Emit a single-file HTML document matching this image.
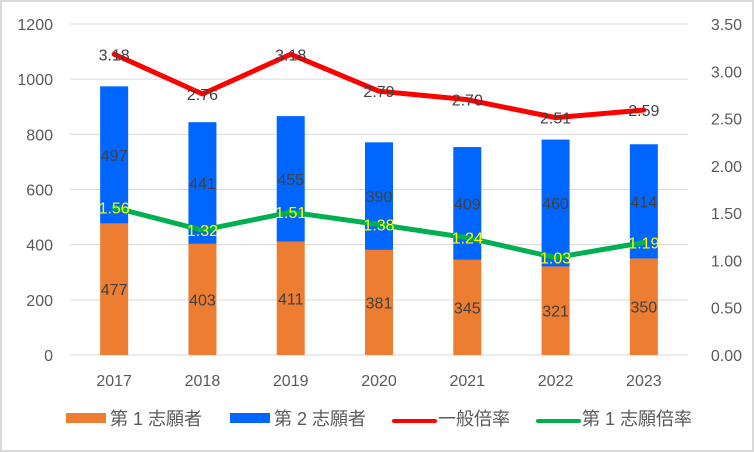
<!DOCTYPE html>
<html><head><meta charset="utf-8">
<style>
html,body{margin:0;padding:0;background:#fff;}
svg{display:block;font-family:"Liberation Sans","Noto Sans CJK JP",sans-serif;}
</style></head>
<body>
<svg id="chart" width="754" height="452">
<rect x="1" y="1" width="752" height="450" fill="#fff" stroke="#d9d9d9" stroke-width="2"/>
<g id="grid"></g><g id="bars"></g><g id="lines"></g><g id="labels"></g><g id="axes"></g>
<g id="legend">
<rect x="66" y="413" width="40" height="10" fill="#ED7D31"/>
<text x="110" y="425" font-size="18" fill="#595959">第 1 志願者</text>
<rect x="230" y="413" width="40" height="10" fill="#0066FF"/>
<text x="274" y="425" font-size="18" fill="#595959">第 2 志願者</text>
<line x1="394" y1="421" x2="435" y2="421" stroke="#FF0000" stroke-width="4" stroke-linecap="round"/>
<text x="438" y="425" font-size="18" fill="#595959">一般倍率</text>
<line x1="538" y1="421" x2="579" y2="421" stroke="#00B050" stroke-width="4" stroke-linecap="round"/>
<text x="582" y="425" font-size="18" fill="#595959">第 1 志願倍率</text>
</g>
</svg>
<script>
const categories=["2017","2018","2019","2020","2021","2022","2023"];
const firstChoice=[477,403,411,381,345,321,350];
const secondChoice=[497,441,455,390,409,460,414];
const generalRatio=[3.18,2.76,3.18,2.79,2.70,2.51,2.59];
const firstRatio=[1.56,1.32,1.51,1.38,1.24,1.03,1.19];
const leftTicks=[0,200,400,600,800,1000,1200];
const rightTicks=["0.00","0.50","1.00","1.50","2.00","2.50","3.00","3.50"];

const NS="http://www.w3.org/2000/svg";
const X0=70,X1=688,Y0=355,Y1=24;
const step=(X1-X0)/categories.length;
const xC=i=>X0+step*(i+0.5);
const yL=v=>Y0-(v/1200)*(Y0-Y1);
const yR=v=>Y0-(v/3.5)*(Y0-Y1);
function mk(tag,attrs,parent,txt){const e=document.createElementNS(NS,tag);for(const k in attrs)e.setAttribute(k,attrs[k]);if(txt!==undefined)e.textContent=txt;document.getElementById(parent).appendChild(e);return e;}

leftTicks.forEach(t=>{
  const g=mk('line',{x1:X0,x2:X1,y1:yL(t),y2:yL(t),stroke:'#d9d9d9','stroke-width':1},'grid');
  
  
  const l=mk('text',{x:53,y:yL(t)+6,'text-anchor':'end','font-size':16,fill:'#595959'},'axes',String(t));
  
  
});
rightTicks.forEach(t=>{
  const l=mk('text',{x:742,y:yR(parseFloat(t))+6,'text-anchor':'end','font-size':16,fill:'#595959'},'axes',t);
  
  
});
const BW=28;
categories.forEach((c,i)=>{
  const x=xC(i);
  const l=mk('text',{x:x,y:386,'text-anchor':'middle','font-size':16,fill:'#595959'},'axes',c);
  
  
  const a=mk('rect',{x:x-BW/2,y:yL(firstChoice[i]),width:BW,height:Y0-yL(firstChoice[i]),fill:'#ED7D31'},'bars');
  
  
  const top=firstChoice[i]+secondChoice[i];
  const b=mk('rect',{x:x-BW/2,y:yL(top),width:BW,height:yL(firstChoice[i])-yL(top),fill:'#0066FF'},'bars');
  
  
  const t1=mk('text',{x:x,y:(yL(firstChoice[i])+Y0)/2+6,'text-anchor':'middle','font-size':16,fill:'#404040'},'labels',String(firstChoice[i]));
  
  
  const t2=mk('text',{x:x,y:(yL(firstChoice[i])+yL(top))/2+6,'text-anchor':'middle','font-size':16,fill:'#404040'},'labels',String(secondChoice[i]));
  
  
});
function series(vals,color,name,lblColor){
  const pts=vals.map((v,i)=>xC(i)+','+yR(v)).join(' ');
  const p=mk('polyline',{points:pts,fill:'none',stroke:color,'stroke-width':5,'stroke-linejoin':'round','stroke-linecap':'round'},'lines');
  
  
  vals.forEach((v,i)=>{
    const t=mk('text',{x:xC(i),y:yR(v)+6,'text-anchor':'middle','font-size':16,fill:lblColor},'labels',v.toFixed(2));
    
    
  });
}
series(generalRatio,'#FF0000','general-ratio','#404040');
series(firstRatio,'#00B050','first-ratio','#FFFF00');
</script>
</body></html>
